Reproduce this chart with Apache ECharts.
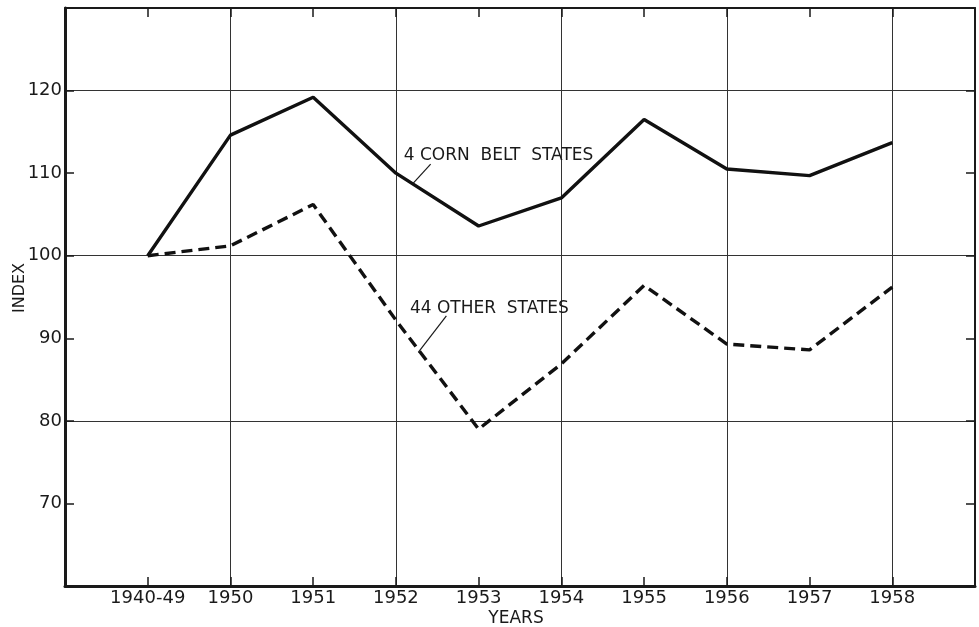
<!DOCTYPE html>
<html>
<head>
<meta charset="utf-8">
<script src="https://cdn.jsdelivr.net/npm/echarts@6/dist/echarts.min.js"></script>
<style>
html,body{margin:0;padding:0;background:#fff;}
#chart{width:979px;height:627px;}
</style>
</head>
<body>
<div id="chart"></div>
<script>
const categories = ['1940-49','1950','1951','1952','1953','1954','1955','1956','1957','1958'];
const cornBelt = [100, 114.6, 119.2, 110, 103.6, 107, 116.5, 110.5, 109.7, 113.7];
const otherStates = [100, 101.2, 106.2, 92.2, 79, 86.9, 96.4, 89.3, 88.6, 96.2];
const yTickLabels = ['70','80','90','100','110','120'];
const cornLabel = '4 CORN  BELT  STATES';
const otherLabel = '44 OTHER  STATES';

const ink = '#1a1a1a';
const font = 'DejaVu Sans';

const chart = echarts.init(document.getElementById('chart'), null, {renderer:'canvas'});

const baseX = {
  type:'value', min:-1, max:10, interval:1,
  axisLine:{show:true, onZero:false, lineStyle:{color:ink, width:3}},
  axisTick:{show:true, inside:true, length:9, lineStyle:{color:ink, width:1.5}},
  axisLabel:{show:false},
  splitLine:{show:false}
};
const baseY = {
  type:'value', min:60, max:130, interval:10,
  axisLine:{show:true, onZero:false, lineStyle:{color:ink, width:3}},
  axisTick:{show:true, inside:true, length:9, lineStyle:{color:ink, width:1.5}},
  axisLabel:{show:false},
  splitLine:{show:false}
};

const option = {
  animation:false,
  backgroundColor:'#fff',
  grid:{left:65, top:8, right:4, bottom:41, containLabel:false, outerBoundsMode:'none'},
  xAxis:[
    Object.assign({}, baseX, {
      position:'bottom',
      axisLabel:{show:true, margin:3, color:ink, fontFamily:font, fontSize:18,
        formatter:v => (Number.isInteger(v) && v>=0 && v<categories.length) ? categories[v] : ''},
      name:'YEARS', nameLocation:'middle', nameGap:24, nameMoveOverlap:false,
      nameTextStyle:{color:ink, fontFamily:font, fontSize:17, padding:[0,8,0,0]}
    }),
    Object.assign({}, baseX, {position:'top', axisLine:{show:true, onZero:false, lineStyle:{color:ink, width:2}}}),
    {type:'value', min:-1, max:10, interval:2, position:'bottom', axisLine:{show:false, onZero:false}, axisTick:{show:false}, axisLabel:{show:false},
     splitLine:{show:true, lineStyle:{color:'#333', width:1}}}
  ],
  yAxis:[
    Object.assign({}, baseY, {
      position:'left',
      axisLabel:{show:true, margin:3, color:ink, fontFamily:font, fontSize:18,
        formatter:v => yTickLabels.indexOf(String(v))>=0 ? String(v) : ''},
      name:'INDEX', nameLocation:'middle', nameGap:37, nameRotate:90, nameMoveOverlap:false,
      nameTextStyle:{color:ink, fontFamily:font, fontSize:16, padding:[0,0,0,18]}
    }),
    Object.assign({}, baseY, {position:'right', axisLine:{show:true, onZero:false, lineStyle:{color:ink, width:2}}}),
    {type:'value', min:60, max:130, interval:20, position:'left', axisLine:{show:false, onZero:false}, axisTick:{show:false}, axisLabel:{show:false},
     splitLine:{show:true, lineStyle:{color:'#333', width:1}}}
  ],
  series:[
    {
      name:'4 Corn Belt States', type:'line', xAxisIndex:0, yAxisIndex:0,
      data:categories.map((c,i)=>[i, cornBelt[i]]),
      symbol:'none', lineStyle:{color:'#111', width:3.4, type:'solid'},
      markPoint:{
        silent:true, symbol:'rect', symbolSize:1, itemStyle:{color:'rgba(0,0,0,0)'},
        label:{show:true, position:'inside', color:ink, fontFamily:font, fontSize:17, formatter:p=>p.name},
        data:[{name:cornLabel, coord:[4.24, 112.1]}]
      },
      markLine:{
        silent:true, symbol:['none','arrow'], symbolSize:[0,9],
        lineStyle:{color:ink, width:1.2, type:'solid'}, label:{show:false},
        data:[[{coord:[3.42, 111.1]},{coord:[3.21, 108.8]}]]
      }
    },
    {
      name:'44 Other States', type:'line', xAxisIndex:0, yAxisIndex:0,
      data:categories.map((c,i)=>[i, otherStates[i]]),
      symbol:'none', lineStyle:{color:'#111', width:3.4, type:[11,6]},
      markPoint:{
        silent:true, symbol:'rect', symbolSize:1, itemStyle:{color:'rgba(0,0,0,0)'},
        label:{show:true, position:'inside', color:ink, fontFamily:font, fontSize:17, formatter:p=>p.name},
        data:[{name:otherLabel, coord:[4.13, 93.6]}]
      },
      markLine:{
        silent:true, symbol:['none','rect'], symbolSize:[0,[12,2.5]],
        lineStyle:{color:ink, width:1.2, type:'solid'}, label:{show:false},
        data:[[{coord:[3.61, 92.7]},{coord:[3.27, 88.3]}]]
      }
    }
  ]
};
chart.setOption(option);
</script>
</body>
</html>
